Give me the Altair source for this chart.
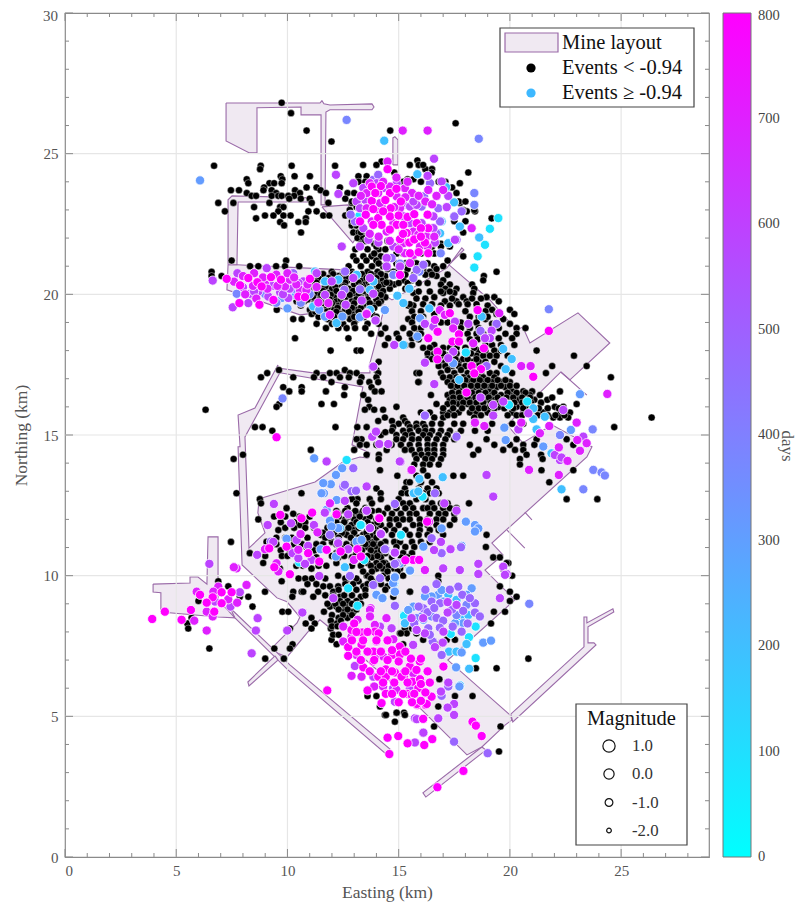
import altair as alt
import pandas as pd

FONT = "Liberation Serif"
X_DOMAIN = [0, 28.95]
Y_DOMAIN = [0, 30]
EDGE = "#9a6aa8"
PALE = "#f0e9f2"
AXIS_GRAY = "#8a8a8a"
GRID_GRAY = "#e6e6e6"

# ---- mine layout outlines (easting, northing, km) ----
mine_main = [(7.33,21.05),(7.73,21.05),(12.58,20.87),(14.70,19.80),(17.17,20.94),(17.84,21.65),(17.93,21.58),(17.26,21.05),
 (19.10,19.80),(20.31,18.73),(20.58,18.84),(20.90,18.27),(23.06,19.34),(24.49,18.27),(22.70,16.96),(22.29,17.24),(19.87,15.36),
 (20.58,14.72),(21.89,15.36),(23.69,14.58),(23.46,14.22),(19.19,11.16),(19.69,10.74),(18.88,10.20),(20.22,9.14),(17.21,7.00),
 (20.00,5.05),(20.09,4.87),(19.78,4.69),(18.74,3.91),(18.07,3.63),(16.04,5.23),(11.91,8.14),(11.46,8.43),(10.92,8.00),(9.98,7.11),
 (9.21,7.36),(10.43,8.32),(10.56,8.53),(9.98,9.07),(9.53,9.21),(7.96,10.38),(7.78,14.58),(7.87,14.58),(7.78,15.71),(8.54,15.96),
 (9.57,17.49),(9.57,17.38),(11.15,17.21),(13.71,17.21),(13.71,17.56),(13.93,18.20),(14.38,19.62),(10.56,19.27),(7.28,20.16)]
mine_top = [(7.24,26.80),(11.46,26.80),(11.55,26.88),(11.64,26.77),(11.91,26.73),(13.80,26.77),(13.89,26.66),(13.80,26.56),(11.91,26.56),
 (11.73,26.48),(11.69,23.18),(11.51,23.18),(11.51,26.38),(10.61,26.38),(10.61,26.66),(8.63,26.63),(8.63,25.03),(8.27,25.03),(7.24,25.45)]
mine_stub = [(14.74,24.60),(14.74,25.56),(14.83,25.60),(14.97,25.49),(14.97,24.60)]
mine_strip = [(7.33,21.05),(7.33,23.36),(7.51,23.50),(11.01,23.43),(11.01,23.28),(7.78,23.28),(7.73,21.05)]
mine_wedge = [(11.55,23.11),(12.72,23.18),(13.17,22.11),(12.94,21.83)]
mine_west = [(3.96,9.70),(5.62,9.74),(5.62,9.95),(5.98,9.95),(6.38,9.70),(6.43,11.38),(6.88,11.38),(6.88,9.14),(7.64,8.50),(6.88,8.53),
 (4.31,8.71),(4.31,9.39),(3.96,9.42)]
tunnel_se = [(7.42,8.85),(10.11,6.83),(14.61,3.84),(14.43,3.66),(10.02,6.65),(7.64,8.50)]
tunnel_sw = [(9.44,7.15),(8.22,6.22),(8.27,6.08),(9.57,7.00)]
tunnel_ne = [(20.04,5.08),(23.33,7.47),(23.33,8.53),(23.46,8.53),(23.46,8.32),(24.63,8.82),(24.67,8.71),(23.51,8.18),(23.51,7.61),
 (23.78,7.61),(23.87,7.54),(20.13,4.80)]
tunnel_s = [(18.74,3.91),(16.09,2.28),(16.22,2.13),(18.92,3.80)]
stub_a = [(19.87,11.62),(20.67,10.98)]
stub_b = [(20.67,12.26),(20.99,11.98)]
stub_c = [(22.29,17.24),(23.46,16.42)]
mine_hole = [(9.66,17.21),(13.39,16.71),(12.90,14.65),(13.71,14.36),(13.62,14.18),(13.26,14.22),(12.49,14.04),(11.24,13.33),
 (8.85,12.76),(8.72,12.69),(8.67,12.23),(8.99,11.52),(8.27,10.98),(8.09,14.93)]

# ---- events below the magnitude threshold: (northing, [eastings]) ----
black_rows = [
 (26.81,[9.74]),(26.44,[10.16]),(26.08,[17.56]),(25.82,[10.86,14.62]),(25.43,[11.98]),
 (24.76,[15.84]),(24.72,[14.23]),(24.57,[6.70,8.80,10.19,12.14]),(24.45,[8.77,16.2,16.5]),(24.33,[18.13,14.80,16.48]),
 (24.2,[9.70,10.32,11.01,13.56,13.19]),(24.09,[15.66,15.4,8.17,9.77]),(23.95,[8.24,9.19,9.40,9.74,12.99,17.75]),(23.8,[8.95,10.86,11.31,12.36,17.4]),
 (23.7,[7.46,7.82,8.92,9.29,10.34,11.49]),(23.6,[8.17,9.49,10.56,11.73,12.7]),(23.5,[8.39,8.59,9.29,9.59,9.74,10.04,10.3]),(23.4,[10.08,10.6,11.0,12.6]),
 (23.25,[6.89,7.57,9.19,11.09,11.84,12.89,17.75]),(23.1,[8.50,9.67,9.82,13.11]),(22.95,[7.19,9.59,10.94,11.31,18.06,18.43]),
 (22.8,[8.99,9.37,9.82,10.14,11.61,11.88,12.6]),(22.7,[8.59,10.83,19.18,12.95]),(22.57,[9.67,10.49,10.82]),(22.45,[9.85,12.89,13.1]),
 (22.2,[10.61,12.96,13.2]),(22.0,[13.15,13.4,13.7]),(21.8,[13.3,13.9,16.9]),(21.6,[13.05,13.6,14.1,14.4]),(21.35,[12.96,13.78,13.41,14.2,17.9]),
 (21.2,[7.49,9.94,13.1,13.55,14.0,15.6,17.2]),(21.0,[8.32,8.69,9.49,9.89,10.53,12.75,13.3,13.8,14.3,16.6,17.0]),
 (20.8,[6.59,11.99,12.51,12.9,13.6,14.05,14.76,15.9,16.4,19.4]),(20.65,[6.59,7.04,12.3,13.2,13.9,14.4,15.1,16.7,18.83]),
 (20.5,[11.2,11.6,12.1,12.7,13.35,13.8,14.23,15.21,15.6,17.0,18.8]),(20.35,[11.1,11.9,12.4,13.0,13.5,14.3,14.8,16.9,17.3,18.3]),
 (20.2,[11.5,12.0,12.75,13.2,13.9,14.6,15.3,17.1,17.6,18.4]),(20.05,[11.35,11.8,12.3,13.0,13.6,14.1,15.66,17.0,18.35,17.5]),
 (19.9,[11.15,12.1,12.6,13.3,14.0,14.4,16.6,17.9,18.95,19.3]),(19.75,[10.41,10.75,11.6,12.2,12.9,13.5,14.2,17.08,17.6,18.06,19.5]),
 (19.6,[10.6,11.9,12.3,12.75,13.4,13.9,15.43,15.66,16.9,17.3,19.0]),(19.45,[9.52,11.01,11.6,12.1,12.6,13.1,13.6,18.5,19.2,20.0]),
 (19.3,[11.09,11.5,12.0,12.4,12.9,13.4,13.8,16.6,19.4,20.2]),(19.12,[10.64,10.26,11.8,12.3,12.8,13.15,15.43,18.9,19.7]),
 (18.95,[11.31,12.0,12.5,13.0,13.6,14.1,20.0,19.2]),(18.8,[11.73,12.29,12.66,13.04,13.5,14.4,15.2,19.5,20.3,20.7]),(18.6,[13.76,14.91,14.2,15.5,15.9,18.8,19.8,20.3]),
 (18.44,[10.34,12.74,14.53,15.0,15.6,19.1,19.5,20.1]),(18.2,[14.38,16.6,18.9,19.2,19.6,20.2,15.6,15.3]),(18.0,[11.94,13.11,13.29,16.7,18.6,18.9,19.3,19.6,21.2]),
 (17.82,[16.9,17.2,18.5,18.8,19.1,19.4,19.9,22.88]),(17.6,[16.8,17.1,17.4,17.7,18.3,18.6,18.9,19.3,14.1]),
 (17.45,[16.8,17.1,17.4,17.7,18.0,18.3,18.6,19.0,19.6,21.9,23.45]),(17.31,[9.62,12.58,14.0,17.2,17.8]),
 (17.2,[9.09,11.31,11.91,12.21,12.81,13.11,14.08,15.8,15.93,16.9,17.5,18.1,18.4,18.7,19.1,19.4,20.1,21.62]),(17.05,[8.81,10.26,11.19,11.61,12.36,12.76,13.33,14.0,17.0,17.3,17.6,17.9,18.2,18.5,18.8,19.3,24.54]),
 (16.88,[11.98,13.26,13.68,14.08,15.91,15.88,17.2,17.5,17.9,18.2,18.5,18.8,19.2,19.6,20.0]),(16.7,[9.81,10.64,12.58,13.78,17.5,17.8,18.1,18.4,18.7,19.0,19.4,19.8]),
 (16.55,[10.08,10.64,11.73,13.93,14.23,18.0,19.1,20.1,20.6,21.0,22.25]),(16.42,[12.55,13.41,16.45,17.2,17.6,17.9,18.2,18.5,18.8,19.2,19.6,20.0,20.3,20.9,21.35]),
 (16.25,[13.63,17.3,17.6,18.0,18.3,18.6,18.9,19.3,19.7,20.4,20.7,21.1,21.68]),(16.1,[11.53,12.09,9.63,16.7,17.2,17.7,18.1,18.4,18.7,23.0]),
 (16.0,[9.51,13.68,19.1,19.5,20.0,20.3,20.8,22.02,22.4]),(15.9,[6.32,13.48,21.05,21.0]),(15.8,[16.0,16.4,17.0,17.3,17.7,18.2,18.5,19.0,20.1,20.75,21.5,22.3,22.7]),
 (15.62,[14.38,15.2,16.6,17.0,18.4,21.95,22.25,22.62,26.37]),(15.5,[14.08,15.28,14.7]),
 (15.4,[15.0,15.4,15.8,16.1,16.5,16.9,17.5,17.9,18.4,19.2,20.1,20.6]),(15.28,[8.54,8.88,12.16,13.14,13.56,14.75,15.5,15.8,16.18,24.69]),
 (15.15,[9.32,14.7,15.2,15.5,15.9,16.2,16.5,16.9,17.3,17.8,18.43,19.0]),(15.0,[14.2,14.9,15.3,15.6,16.1,16.4,16.8,17.2,17.6]),
 (14.85,[13.2,13.33,13.11,14.9,15.2,15.6,15.9,16.3,16.7,17.1,17.5,18.95,20.3,21.2,22.55]),(14.65,[13.26,13.56,14.0,14.68,15.1,15.5,15.9,16.3,16.6,17.0,18.2,19.3,20.0,20.6,21.1,22.85]),
 (14.47,[11.05,13.0,14.46,15.28,15.58,15.95,16.3,16.6,17.0,18.58,19.7,20.23,20.6]),(14.3,[8.0,13.56,14.11,15.73,16.03,16.33,16.6,17.0,18.35,20.75,21.4]),
 (14.15,[7.58,14.1,15.8,16.2,16.5,16.9,20.45,21.47]),(13.95,[15.7,16.1,16.4,16.8,20.45]),(13.75,[14.16,16.1,21.42,22.85]),(13.55,[14.94,15.8,16.3,17.46,17.9]),
 (13.32,[15.35,15.5,16.0,16.5,21.77]),(13.1,[15.28,15.9,16.3,16.7,14.0]),(12.93,[7.71,10.63,15.13,14.19,15.4,15.7,16.1,16.4,16.8]),
 (12.72,[8.76,13.15,14.2,22.55,23.93,12.9,13.7,15.0,15.8,16.2]),(12.57,[14.8,15.2,15.5,16.5,16.9,17.2,18.16,13.1,13.8,8.81]),
 (12.4,[13.5,14.5,14.9,15.3,15.65,16.1,16.3,16.6,17.0,17.3,17.6,12.7,9.96]),(12.2,[10.26,12.3,12.9,13.2,14.3,14.7,15.1,15.5,15.8,16.4,16.8,17.1,17.5]),
 (12.0,[12.0,12.6,13.0,13.5,14.0,14.6,14.9,15.2,15.5,15.95,16.3,16.7,17.0,17.5,8.69]),(11.8,[10.56,11.23,12.4,12.88,13.41,13.8,14.2,14.6,15.0,15.65,15.95,16.3,16.7,17.3]),
 (11.62,[9.59,12.0,12.6,12.96,13.6,14.0,14.4,14.8,15.3,15.95,16.4,16.8]),(11.45,[11.5,12.66,13.4,13.8,14.2,14.7,15.1,15.5,15.9,16.3,17.0,18.95]),
 (11.2,[7.46,9.06,12.0,13.0,13.71,13.9,14.4,14.8,15.06,15.6,16.0,16.4,16.9]),(11.02,[10.86,12.5,12.81,13.6,14.0,14.4,14.9,15.3,15.7,16.1,18.92]),
 (10.8,[8.31,11.0,12.2,13.1,13.93,14.0,14.4,14.8,15.2,15.6]),(10.65,[11.3,12.28,12.9,13.4,13.8,14.2,14.7,15.1,15.4,19.25,19.55]),
 (10.45,[8.91,12.2,13.6,14.0,14.4,14.9,15.2,14.31,19.93,19.85]),(10.25,[9.66,11.08,14.3,14.8,15.06,14.0,19.7]),
 (10.0,[12.28,13.56,13.6,14.3,15.2,20.1,16.78]),(9.8,[9.74,6.89,14.0,16.78,13.2]),(9.62,[7.34,11.61,11.91,12.28,13.41,14.5,19.55]),
 (9.43,[8.99,10.64,10.71,11.38,12.06,10.26,20.0,15.5,15.51]),(9.25,[10.22,11.16,14.76,20.3,7.86,8.24,12.36,13.3]),
 (9.1,[6.0,12.36,12.7,13.1,20.0]),(8.9,[8.43,11.91,12.2,12.6]),(8.72,[9.77,10.04,11.64,12.51,12.81,12.96,19.78,19.28]),(8.5,[5.69,11.08,12.3,12.7]),
 (8.3,[11.23,12.21,10.82,19.15,5.5]),(8.12,[5.54,10.11,11.08,11.95,15.28,15.6]),(7.95,[15.06,15.36,15.1,15.8]),
 (7.72,[11.98,16.1,17.16,17.53]),(7.56,[10.23,12.21,15.2,16.78]),(7.41,[6.49,9.41,10.11]),(7.05,[9.0,9.84,20.83]),(6.71,[18.47,19.4]),
 (6.32,[16.83]),(5.72,[17.53,18.32,14.0,13.6]),(5.35,[16.78,14.16]),(5.13,[14.9,15.24,14.91]),(5.05,[14.38,14.43,15.28]),(4.81,[14.83]),
 (4.64,[16.59,19.58]),(3.75,[19.51]),
]
black_rows_north = [
 (24.6,[13.4,14.0,15.5,15.9,16.1]),(24.0,[13.2,13.5,16.0,16.8,17.1,15.2]),(23.6,[13.0,17.6]),(23.3,[12.9,13.2,17.7,18.0]),(23.0,[12.8,17.9,18.4]),
 (22.6,[12.9,17.5,18.0]),(22.2,[13.3,13.6,17.9]),(21.9,[14.5,15.2,13.5]),(21.7,[14.0,15.0,16.5,16.9,17.3]),(21.45,[13.9,14.9,15.2,16.0,16.6]),
 (21.1,[14.1,14.9,15.3,15.8,16.3]),(20.9,[14.5,15.0,15.4,16.1,16.7]),(20.7,[15.3,15.7,16.2,16.5,17.2]),(20.4,[14.6,15.0,15.4,15.9,16.3]),
]
black_rows_band = [
 (20.72,[11.6,12.05,12.5,12.95,13.35,13.75,14.2]),(20.58,[11.4,11.85,12.35,12.65,13.1,13.55,14.0]),(20.42,[11.3,11.7,12.2,12.6,13.2,13.65,14.0,14.45]),
 (20.28,[10.9,11.3,11.7,12.15,12.55,13.3,13.7,14.1]),(20.12,[11.0,11.6,12.2,12.5,12.95,13.45,13.85,14.3]),(19.98,[11.0,11.5,11.95,12.4,12.8,13.2,13.7,14.2]),
 (19.82,[10.9,11.45,11.9,12.4,13.1,13.6,14.0]),(19.68,[11.2,11.55,12.0,12.5,13.0,13.7,14.1]),(19.52,[11.3,11.8,12.25,12.9,13.3,13.9]),
 (19.38,[11.25,11.75,12.2,12.75,13.2,13.6]),(19.2,[11.4,12.1,12.55,13.0,13.45,14.0]),
]
black_rows_east = [
 (20.1,[15.9,16.4,16.9,17.3]),(19.85,[15.8,16.2,17.4,18.3,18.7]),(19.65,[15.5,16.1,16.5,17.7,18.1,18.5]),(19.4,[15.6,16.0,18.0,18.9]),
 (19.2,[15.7,16.1,18.2,18.6,19.0]),(19.0,[15.6,16.9,17.2,17.8,18.5]),(18.8,[15.7,16.0,17.8,18.2,18.6]),(18.6,[15.5,16.0,18.1,18.5]),(18.4,[15.9,18.2,18.55]),
 (18.1,[16.1,16.4,17.0,17.3,17.6,18.0,18.4]),(17.9,[16.3,16.6,17.0,17.6,18.0,18.25]),(17.7,[16.3,16.5,17.55,17.9,18.1,18.5]),
 (16.95,[18.0,18.35,18.65,19.0,19.45,19.8]),(16.75,[17.35,17.65,17.95,18.25,18.55,18.85,19.2,19.6,20.0,20.3]),(16.5,[17.4,17.7,18.3,18.6,18.9,19.3,19.9,20.3,20.7]),
 (16.33,[17.45,17.75,18.1,18.45,18.75,19.05,19.45,19.85,20.15,20.55,20.9,21.9]),(16.15,[17.45,17.9,18.2,18.5,18.8,19.15,19.55,19.9,20.2,20.55,20.95,21.4]),
 (15.95,[17.0,17.45,17.85,18.3,18.6,18.85,19.3,19.75,20.15,20.6,21.3,21.7,22.2]),(15.7,[17.2,17.5,18.7,19.9,20.3,20.55,21.25,21.7,22.05,22.45]),
]
black_rows_south = [
 (12.3,[12.2,12.6,13.05,13.4,13.8,14.1]),(12.1,[12.3,12.75,13.25,13.7,14.15,9.4,9.9,10.55,11.0]),(11.9,[12.2,12.55,13.1,13.6,14.05,9.7,10.3,10.8]),
 (11.7,[11.8,12.3,12.75,13.2,13.85,9.9,10.3,10.8,11.2]),(11.52,[11.6,12.1,12.45,13.0,13.55,14.0]),(11.35,[11.9,12.3,12.85,13.2,13.6,14.0,9.5,9.9,10.2,10.9,11.7]),
 (11.12,[11.6,12.2,12.65,13.2,13.5,13.85,14.2,9.5,10.3,10.65,11.3]),(10.9,[11.8,12.35,12.7,13.35,13.75,14.2,9.7,10.1,11.2]),(10.7,[12.0,12.55,13.05,13.6,14.05,9.75,10.0,9.0]),
 (10.35,[12.9,13.3,13.75,14.15,14.55,15.0,10.4,10.7,11.4,11.75]),(10.15,[13.4,13.8,14.5,14.95]),(9.9,[12.7,13.1,13.75,14.15,14.55,10.5,10.8,11.1,11.7,12.6]),
 (9.7,[12.6,12.95,13.6,14.2,10.9,11.3]),(9.5,[12.3,12.7,13.1,13.5,14.4]),(9.3,[11.7,12.05,12.55,12.9,13.5]),(9.0,[11.8,12.15,12.5,12.9,13.3]),
 (8.8,[12.3,12.7,13.1]),(8.6,[12.0,12.5,12.9]),(8.4,[11.95,12.4]),(8.2,[12.0,12.25]),(7.9,[12.05,12.3]),
 (15.9,[13.9,14.3]),(16.0,[14.9]),(15.1,[14.0,14.4]),
]

# ---- events above the threshold, by day level: (easting, northing) ----
days_100 = [(19.48,22.71),(19.1,22.33),(18.88,21.76),(18.55,21.35),(18.4,20.95),(13.2,22.77),(18.02,17.93),(19.96,16.07),(20.78,16.19),
 (16.08,12.81),(15.1,11.42),(13.33,11.8),(12.66,14.11),(13.29,11.8),(15.1,11.45),(12.73,9.55),(13.15,8.93),(16.07,12.81),(13.45,10.56),
 (15.25,8.61),(10.53,10.47),(18.46,8.19),(17.34,7.93),(18.16,7.81),(18.46,7.07),(15.24,8.57),(17.76,8.49),(14.28,9.2)]
days_200 = [(15.84,24.27),(14.35,25.46),(17.13,23.81),(18.62,22.02),(17.49,23.27),(16.93,22.59),(16.86,22.17),(17.23,21.82),(17.75,22.41),
 (11.24,20.81),(11.69,20.46),(12.29,20.52),(13.11,20.69),(12.21,18.98),(13.71,20.16),(13.86,20.46),(11.16,19.57),(14.94,19.95),(15.21,19.69),
 (15.48,20.2),(16.03,19.1),(13.71,19.45),(15.21,18.2),(16.38,19.5),(18.73,19.21),(19.7,18.06),(20.08,17.7),(19.81,17.34),(17.72,16.96),
 (21.05,15.95),(21.57,15.65),(21.05,15.57),(21.2,15.2),(22.32,13.07),(15.93,13.44),(15.66,12.95),(15.88,13.0),(16.98,13.5),(21.87,14.35),
 (12.58,10.3),(12.36,11.69),(15.68,12.93),(15.88,12.99),(15.5,10.2),(17.23,9.32),(17.9,8.6),(18.13,8.6),(15.28,8.31),(18.05,7.57),(18.17,6.69),
 (14.8,9.73),(15.48,10.18),(17.6,9.14),(17.76,6.1),(17.26,7.3),(17.6,7.3)]
days_310 = [(10.26,19.98),(10.0,19.5),(11.43,19.45),(11.69,19.21),(12.47,19.21),(13.26,19.19),(14.38,19.45),(9.74,19.87),(15.96,19.15),(14.38,19.44),
 (17.45,17.55),(18.02,11.92),(18.43,11.8),(18.58,11.68),(18.43,11.57),(16.93,11.68),(23.15,16.45),(22.74,15.18),(21.5,14.59),(19.81,14.82),
 (19.75,15.26),(15.51,10.18),(16.11,11.03),(17.83,11.06),(15.84,18.5),(11.76,12.34),(11.91,11.95),(12.28,11.69),(11.98,11.75),(11.64,12.93),
 (11.53,12.93),(12.46,13.82),(12.18,13.58),(11.95,13.25),(11.2,14.17),(12.21,12.69),(11.49,10.94),(12.18,10.68),(13.11,11.21),(13.33,11.27),
 (11.61,13.29),(9.96,11.31),(14.8,9.44),(14.0,9.32),(14.27,9.2),(14.83,9.97),(14.75,9.73),(15.06,10.44),(16.78,9.32),(16.48,9.26),(16.18,9.26),
 (16.93,9.49),(18.28,9.55),(18.05,9.32),(17.0,9.08),(15.66,8.9),(15.43,8.78),(17.9,8.31),(17.53,8.31),(17.83,7.27),(17.58,6.74),(18.8,7.62),
 (19.15,7.69),(17.73,6.06),(16.11,8.43),(14.83,9.43),(14.83,9.94),(6.07,24.05)]
days_380 = [(18.4,23.6),(18.4,23.18),(16.89,21.46),(15.06,21.09),(15.93,20.81),(14.76,20.69),(18.6,25.53),(9.78,16.3),(12.66,26.2),(7.72,20.02),
 (17.6,8.6),(16.48,8.55),(18.05,8.96),(16.03,8.55),(15.81,8.49),(20.87,9.0),(23.3,13.07),(23.72,15.2),(22.25,15.0),(21.75,19.47),(23.75,13.76),(24.12,13.67),(24.27,13.56),
 (16.18,15.68),(16.18,17.57),(9.0,20.0),(9.5,19.7),(10.0,20.1),(10.3,20.2),(10.6,19.7),(11.0,20.0)]
days_480 = [(13.04,22.59),(12.84,22.83),(13.86,24.07),(14.16,24.07),(16.03,23.12),(16.14,23.48),(16.41,23.95),(15.51,23.6),(16.7,22.17),(16.86,22.59),
 (16.78,23.06),(17.5,22.77),(17.6,21.94),(17.83,22.95),(15.81,20.87),(16.11,21.05),(15.66,20.58),(14.08,24.25),(14.68,21.29),(10.26,20.75),
 (12.56,20.16),(13.26,20.18),(12.59,20.81),(18.95,17.45),(19.4,18.95),(18.68,18.7),(16.18,15.69),(17.6,14.94),(14.83,12.55),(16.63,12.93),
 (16.48,11.33),(16.93,10.8),(17.8,11.01),(14.91,10.44),(14.43,10.94),(11.91,11.45),(12.51,13.17),(12.88,13.0),(12.28,11.21),(14.38,10.94),
 (14.83,10.42),(12.81,9.99),(14.16,9.91),(12.96,13.82),(12.58,13.23),(13.08,13.02),(9.26,11.21),(13.86,9.67),(14.83,8.93),(16.48,9.08),
 (16.11,8.84),(16.86,9.02),(18.43,9.02),(18.43,8.69),(17.86,9.32),(17.68,9.61),(18.65,8.55),(17.43,8.19),(17.83,8.01),(16.33,8.13),(16.53,7.66),
 (16.93,7.18),(16.93,5.73),(17.49,4.1),(19.0,3.69),(17.23,6.06),(16.3,8.7),(16.7,8.5),(17.0,8.4),(16.6,8.85),(17.4,8.8),(17.9,8.75),(18.2,9.2),
 (16.2,9.5),(16.7,9.7),(17.3,9.5),(15.9,8.9),(16.85,8.15),(18.1,8.3),(16.4,7.9),(15.7,8.3)]
days_590 = [(13.41,23.78),(13.49,23.36),(13.11,23.3),(13.26,23.06),(14.01,23.95),(14.31,23.78),(14.91,23.95),(15.21,23.18),(15.51,23.12),(15.81,23.18),
 (15.66,23.3),(15.21,22.77),(15.51,22.53),(16.03,22.53),(16.56,22.77),(16.56,22.35),(14.76,21.7),(14.09,21.84),(13.64,21.94),(13.26,21.7),
 (12.96,23.95),(12.18,24.25),(12.29,23.57),(12.44,21.7),(16.59,24.82),(16.63,21.84),(17.16,23.1),(17.23,23.5),(16.93,24.01),(17.53,21.94),
 (14.46,21.29),(14.46,20.99),(15.06,20.99),(16.3,24.21),(13.41,22.35),(8.32,20.02),(8.69,20.1),(9.67,20.07),(9.14,19.92),(10.04,19.87),
 (10.71,20.46),(11.31,20.75),(11.69,19.98),(11.99,20.46),(12.44,19.98),(12.62,19.63),(12.96,20.58),(13.34,19.78),(13.71,20.58),(13.86,20.02),
 (13.97,19.07),(6.64,20.49),(7.54,19.54),(8.24,19.69),(9.07,20.93),(16.18,18.95),(16.56,18.85),(17.53,19.03),(18.13,18.95),(17.45,17.96),
 (17.23,17.73),(16.18,17.57),(14.8,18.2),(13.96,19.07),(13.83,17.43),(16.6,16.81),(18.68,16.33),(19.25,15.69),(19.25,16.07),(20.38,15.2),
 (22.4,15.89),(20.83,15.77),(18.95,13.58),(19.25,12.81),(15.09,14.05),(13.56,12.31),(17.05,12.57),(17.6,12.31),(16.9,11.2),(17.33,10.94),
 (16.59,10.91),(17.0,10.26),(16.18,10.2),(17.75,10.2),(18.58,10.42),(18.58,10.06),(19.7,10.32),(19.85,10.06),(13.71,11.68),(14.19,11.51),
 (14.83,10.8),(19.18,18.71),(19.1,18.44),(19.7,16.19),(22.25,14.11),(22.02,14.29),(22.32,14.2),(23.3,14.94),(18.88,18.44),(9.39,12.55),
 (9.11,11.8),(10.16,11.86),(11.19,11.8),(11.68,12.24),(12.73,12.18),(13.71,11.69),(14.2,11.48),(14.83,10.82),(15.05,14.06),(13.86,17.43),
 (11.76,14.06),(8.64,10.74),(6.49,10.42),(10.23,10.8),(10.49,10.62),(11.08,10.56),(10.79,10.42),(11.43,9.99),(12.06,9.2),(10.41,11.27),
 (10.93,11.06),(12.28,11.15),(12.73,10.94),(13.56,13.17),(13.56,12.31),(12.58,12.66),(9.36,11.2),(13.81,14.94),(14.13,14.68),(14.53,14.68),
 (13.98,15.12),(7.86,9.41),(6.74,9.08),(7.44,8.9),(8.66,8.49),(8.58,8.05),(8.39,7.24),(9.99,8.05),(10.67,8.69),(14.16,8.19),(14.68,8.13),
 (15.65,7.54),(16.18,7.95),(15.8,8.07),(16.1,8.49),(15.58,8.49),(13.03,6.79),(13.86,6.41),(14.83,5.52),(15.73,4.93),(16.1,4.42),(15.73,4.07),
 (15.2,6.53),(15.5,6.0),(14.75,6.0),(17.2,9.06),(17.2,8.69),(17.6,8.96),(17.01,8.01),(15.81,8.07),(17.23,6.2),(17.49,5.44),(17.2,5.31),
 (17.49,5.05),(16.78,4.93),(16.11,4.42),(15.81,4.9),(19.55,9.2),(19.78,10.03),(16.98,7.62),(16.63,7.46),(16.9,5.88),(8.0,20.25),(8.5,20.1),
 (9.3,20.3),(9.8,20.0),(10.5,20.4),(10.1,20.2),(7.75,20.75)]
days_700 = [(13.56,23.6),(14.08,23.6),(14.91,23.48),(14.23,23.12),(14.38,23.36),(15.06,23.06),(15.28,23.77),(13.56,23.06),(14.16,22.95),(13.79,22.59),
 (14.76,22.53),(14.46,22.23),(15.66,22.23),(15.88,22.12),(15.21,21.82),(16.26,22.06),(15.96,21.7),(15.66,21.4),(15.28,21.46),(15.51,21.11),
 (14.5,24.72),(17.0,23.71),(16.33,23.71),(18.28,22.35),(14.61,23.83),(14.16,23.24),(15.18,25.82),(16.3,25.82),(8.9,20.4),(8.45,20.3),(9.0,20.35),
 (9.89,20.28),(10.11,20.52),(10.56,20.16),(11.31,20.26),(11.39,19.71),(11.84,19.69),(11.91,19.27),(13.56,19.33),(16.85,19.44),(16.63,19.09),
 (17.08,19.27),(17.45,18.79),(18.35,18.26),(20.51,17.45),(20.93,17.45),(13.56,19.3),(19.52,19.33),(18.85,15.32),(18.43,15.44),(20.51,15.44),
 (21.77,15.32),(23.0,15.44),(23.45,14.71),(23.15,14.44),(22.2,14.56),(22.2,13.58),(20.86,13.76),(24.38,16.46),(16.36,11.92),(14.11,12.06),
 (15.55,13.76),(22.59,14.08),(23.03,14.82),(21.35,15.06),(11.35,11.54),(11.91,12.57),(10.59,11.48),(9.51,10.44),(9.59,10.15),(10.49,10.92),
 (12.99,10.56),(16.18,10.2),(15.58,13.76),(13.74,8.84),(7.71,10.26),(7.59,10.3),(8.99,10.94),(5.92,9.43),(6.89,9.61),(6.67,9.43),(7.34,9.16),
 (7.74,9.04),(6.37,8.72),(5.81,8.4),(6.64,8.55),(8.16,9.67),(6.37,8.05),(13.71,8.78),(13.71,8.55),(13.15,8.43),(12.51,8.19),(14.45,8.49),
 (13.93,8.25),(13.38,7.72),(12.88,7.83),(12.51,7.66),(13.11,7.18),(14.0,7.66),(14.76,7.74),(14.3,7.13),(13.93,7.06),(13.33,6.41),(12.88,6.44),
 (13.9,6.06),(14.3,6.06),(14.9,5.94),(15.65,6.53),(16.25,5.82),(13.3,23.5),(13.7,23.95),(14.3,24.0),(14.9,24.15),(15.4,24.0),(15.6,23.6),(15.9,23.5),
 (16.2,23.3),(16.5,23.2),(16.7,23.5),(14.8,23.1),(15.3,23.45),(13.7,22.15),(14.1,22.05),(14.6,21.9),(15.0,21.6),(16.6,22.05),(16.3,21.7),
 (8.0,20.65),(8.5,20.75),(8.9,20.6),(9.5,20.7),(10.0,20.75),(10.4,20.35),(7.6,20.45),(8.1,20.0),(8.6,19.85),(9.1,20.2),(9.55,20.3),(10.3,20.6),
 (10.85,20.15),(10.9,20.35)]
days_800 = [(13.79,23.83),(13.79,23.32),(13.86,23.03),(13.52,22.83),(14.08,22.71),(14.23,22.47),(13.86,22.47),(14.61,23.6),(14.64,23.06),(14.91,22.47),
 (15.06,21.96),(15.48,21.84),(16.18,21.84),(16.33,22.35),(15.81,22.53),(16.3,22.83),(15.36,22.18),(15.51,21.46),(16.33,21.46),(15.06,20.69),
 (14.5,24.45),(13.26,22.59),(14.61,22.77),(15.21,22.47),(8.24,20.58),(8.65,20.43),(9.26,20.61),(8.84,20.28),(7.87,20.32),(7.27,20.55),(9.71,20.52),
 (11.01,20.55),(10.49,19.92),(10.79,19.9),(8.74,19.63),(7.84,19.69),(9.37,19.8),(17.3,19.33),(16.75,18.67),(16.33,18.44),(16.75,17.96),(16.74,17.69),
 (17.71,18.58),(17.42,18.32),(17.71,18.32),(18.7,17.34),(18.28,17.45),(18.05,16.51),(21.05,17.07),(21.75,18.7),(18.4,17.19),(18.83,18.08),(18.55,19.44),
 (9.51,14.92),(9.68,12.16),(11.11,12.24),(14.13,12.04),(12.21,12.18),(10.63,12.04),(9.18,10.97),(9.96,11.03),(10.93,10.8),(11.43,10.5),(11.76,10.92),
 (12.39,10.86),(13.15,10.94),(13.3,10.68),(9.41,10.3),(10.11,10.05),(15.65,10.56),(15.92,10.56),(16.28,11.92),(15.3,10.55),(6.07,9.32),(5.66,8.78),
 (7.04,9.41),(6.64,9.23),(6.37,9.04),(7.04,9.02),(6.71,8.72),(7.49,9.41),(3.92,8.46),(4.49,8.72),(5.24,8.43),(11.79,5.92),(12.88,8.07),(13.93,8.01),
 (13.36,7.98),(12.73,7.46),(12.73,7.15),(13.33,7.54),(13.86,7.3),(14.71,7.18),(13.41,6.74),(14.42,6.67),(13.86,6.95),(15.05,7.48),(15.5,6.77),(15.95,6.95),
 (14.83,6.56),(14.08,6.41),(15.23,6.41),(15.95,6.29),(14.42,6.41),(15.62,6.23),(15.88,6.0),(15.38,5.8),(14.42,5.8),(13.6,5.92),(14.23,5.47),(15.83,5.4),
 (16.22,5.4),(16.1,4.91),(14.5,4.24),(14.98,4.3),(15.4,4.04),(16.15,3.98),(14.58,3.66),(15.06,7.2),(15.13,6.41),(15.96,6.32),(15.58,5.76),(16.26,5.44),
 (15.81,5.44),(16.51,4.19),(16.74,2.48),(17.91,3.06),(18.32,4.81),(18.47,4.67),(18.73,4.3),(16.48,5.7),(17.01,6.77),(13.0,8.3),(13.1,8.0),(13.6,8.0),
 (14.1,7.95),(12.9,7.7),(13.4,7.7),(14.0,7.7),(14.5,7.7),(13.1,7.3),(13.6,7.3),(14.2,7.3),(14.7,7.35),(15.3,7.3),(13.3,7.0),(13.9,7.0),(14.5,7.0),
 (15.0,6.95),(15.55,7.05),(16.0,7.05),(13.7,6.6),(14.2,6.6),(14.7,6.6),(15.3,6.6),(15.8,6.65),(16.3,6.6),(14.3,6.2),(14.8,6.2),(15.4,6.2),(16.0,6.15),
 (16.4,6.2),(14.7,5.8),(15.2,5.8),(15.7,5.8),(16.2,5.85),(15.0,5.5),(15.6,5.5),(16.0,5.55),(14.2,23.85),(14.4,23.35),(13.95,23.6),(14.9,23.75),(15.1,23.3),
 (14.3,22.95),(14.6,22.3),(15.0,22.8),(15.4,22.75),(15.7,22.85),(16.0,22.35),(15.7,21.95),(15.9,21.5),(16.0,22.05),(15.2,22.15)]

# ---- axes, legend and colour bar text ----
x_ticks = [0, 5, 10, 15, 20, 25]
y_ticks = [0, 5, 10, 15, 20, 25, 30]
y_labelled = [0, 5, 10, 15, 20, 25]
x_minor = [v for v in range(1, 29) if v % 5]
y_minor = [v for v in range(1, 30) if v % 5]
cbar_ticks = [100, 200, 300, 400, 500, 600, 700]
cbar_labels = [0, 100, 200, 300, 400, 500, 600, 700]
mag_labels = ["1.0", "0.0", "-1.0", "-2.0"]
mag_sizes = [150, 105, 60, 22]

# ---- frames ----
polys = {"main": mine_main, "top": mine_top, "stub": mine_stub, "strip": mine_strip, "wedge": mine_wedge, "west": mine_west,
         "se": tunnel_se, "sw": tunnel_sw, "ne": tunnel_ne, "s": tunnel_s, "a": stub_a, "b": stub_b, "c": stub_c}
rows = []
for name, pts in polys.items():
    for i, (e, n) in enumerate(pts + [pts[0]]):
        rows.append({"id": name, "i": i, "e": e, "n": n})
poly_df = pd.DataFrame(rows)
hole_df = pd.DataFrame([{"id": "hole", "i": i, "e": e, "n": n} for i, (e, n) in enumerate(mine_hole + [mine_hole[0]])])
all_black = black_rows + black_rows_north + black_rows_band + black_rows_east + black_rows_south
black_df = pd.DataFrame([{"e": e, "n": n} for n, es in all_black for e in es])
col_rows = []
for d, pts in [(90, days_100), (200, days_200), (310, days_310), (380, days_380), (480, days_480), (590, days_590), (700, days_700), (800, days_800)]:
    col_rows += [{"e": e, "n": n, "days": d} for e, n in pts]
color_df = pd.DataFrame(col_rows)

xs = alt.Scale(domain=X_DOMAIN, nice=False, zero=False)
ys = alt.Scale(domain=Y_DOMAIN, nice=False, zero=False)
x_axis = alt.Axis(values=x_ticks, ticks=False, domain=False, grid=False, title="Easting (km)", labelPadding=6, titlePadding=5,
                  labelFont=FONT, labelFontSize=15, labelColor="#555555", titleFont=FONT, titleFontSize=17.5, titleColor="#555555", titleFontWeight="normal", format="d")
y_axis = alt.Axis(values=y_labelled, ticks=False, domain=False, grid=False, title="Northing (km)", labelPadding=7, titlePadding=13,
                  labelFont=FONT, labelFontSize=15, labelColor="#555555", titleFont=FONT, titleFontSize=17.5, titleColor="#555555", titleFontWeight="normal", format="d")
X = alt.X("e:Q", scale=xs, axis=x_axis)
Y = alt.Y("n:Q", scale=ys, axis=y_axis)

main_layer = alt.Chart(poly_df).mark_line(fill=PALE, stroke=EDGE, strokeWidth=1.1).encode(x=X, y=Y, order="i:Q", detail="id:N")
hole_layer = alt.Chart(hole_df).mark_line(fill="white", stroke=EDGE, strokeWidth=1.1).encode(x=X, y=Y, order="i:Q", detail="id:N")

grid_x = alt.Chart(pd.DataFrame({"e": x_ticks[1:]})).mark_rule(color=GRID_GRAY, strokeWidth=1.2).encode(x=X)
grid_y = alt.Chart(pd.DataFrame({"n": y_ticks[1:-1]})).mark_rule(color=GRID_GRAY, strokeWidth=1.2).encode(y=Y)

black_layer = alt.Chart(black_df).mark_circle(color="black", size=50, opacity=1, stroke="white", strokeWidth=0.4).encode(x=X, y=Y)
color_layer = alt.Chart(color_df).mark_circle(size=85, opacity=1, stroke="white", strokeWidth=0.8).encode(
    x=X, y=Y, order=alt.Order("days:Q"),
    color=alt.Color("days:Q", scale=alt.Scale(domain=[0, 800], range=["#00ffff", "#ff00ff"], interpolate="rgb"),
                    legend=alt.Legend(orient="none", legendX=658, legendY=0, gradientLength=844, gradientThickness=28, title=None,
                                      values=[0, 800], labelOpacity=0, labelFontSize=1,
                                      gradientStrokeColor="#777777", gradientStrokeWidth=1, direction="vertical", type="gradient")))


def tick_layers():
    out = []
    for vals, size in [(x_ticks, 8), (x_minor, 4)]:
        df = pd.DataFrame({"e": vals})
        out.append(alt.Chart(df).mark_rule(color=AXIS_GRAY, strokeWidth=1).encode(x=X, y=alt.value(844), y2=alt.value(844 - size)))
        out.append(alt.Chart(df).mark_rule(color=AXIS_GRAY, strokeWidth=1).encode(x=X, y=alt.value(0), y2=alt.value(size)))
    for vals, size in [(y_ticks, 8), (y_minor, 4)]:
        df = pd.DataFrame({"n": vals})
        out.append(alt.Chart(df).mark_rule(color=AXIS_GRAY, strokeWidth=1).encode(y=Y, x=alt.value(0), x2=alt.value(size)))
        out.append(alt.Chart(df).mark_rule(color=AXIS_GRAY, strokeWidth=1).encode(y=Y, x=alt.value(644), x2=alt.value(644 - size)))
    return out


one = pd.DataFrame({"a": [1]})


def box(x0, x1, y0, y1, fill="white", stroke="#444444", sw=1.2):
    return alt.Chart(one).mark_rect(fill=fill, stroke=stroke, strokeWidth=sw).encode(
        x=alt.value(x0), x2=alt.value(x1), y=alt.value(y0), y2=alt.value(y1))


def label(text, x, y, size=20.5, color="#111111", align="left", angle=0, baseline="middle"):
    return alt.Chart(pd.DataFrame({"t": [text]})).mark_text(font=FONT, fontSize=size, color=color, align=align, baseline=baseline, angle=angle).encode(
        x=alt.value(x), y=alt.value(y), text="t:N")


def dot(x, y, color, size=85):
    return alt.Chart(one).mark_point(filled=True, color=color, size=size, opacity=1).encode(x=alt.value(x), y=alt.value(y))


legend_a = [box(435, 629, 15, 94), box(440, 493, 20, 39, fill=PALE, stroke=EDGE),
            label("Mine layout", 497, 30), dot(466, 55, "black"), label("Events < -0.94", 497, 55),
            dot(466, 80, "#3db8ff"), label("Events \u2265 -0.94", 497, 80)]
legend_b = [box(511, 622, 691, 832), label("Magnitude", 566.5, 706, align="center")]
for lab, sz, yy in zip(mag_labels, mag_sizes, [733, 761, 789.5, 817.5]):
    legend_b.append(alt.Chart(one).mark_point(filled=False, color="#111111", size=sz, strokeWidth=1.2, opacity=1).encode(x=alt.value(544), y=alt.value(yy)))
    legend_b.append(label(lab, 567, yy, size=16.8, color="#333333"))

cbar_tick_layer = alt.Chart(pd.DataFrame({"n": [d * 30 / 800 for d in cbar_ticks]})).mark_rule(color="#333333", strokeWidth=1).encode(
    x=alt.value(677), x2=alt.value(686), y=Y)
cbar_text_layer = alt.Chart(pd.DataFrame({"n": [d * 30 / 800 for d in cbar_labels], "t": [str(d) for d in cbar_labels]})).mark_text(
    font=FONT, fontSize=14.5, color="#444444", align="left", baseline="middle").encode(x=alt.value(693), y=Y, text="t:N")
top_labels = [label("30", -7, -4, size=15, color="#555555", align="right", baseline="top"),
              label("800", 693, -4, size=14.5, color="#444444", baseline="top")]
days_title = label("days", 722, 433, size=17, color="#555555", align="center", angle=90)

chart = alt.layer(main_layer, hole_layer, grid_x, grid_y, black_layer, color_layer, *tick_layers(), *legend_a, *legend_b,
                  cbar_tick_layer, cbar_text_layer, *top_labels, days_title).properties(
    width=644, height=844,
    padding={"left": 57, "top": 5, "right": 90, "bottom": 46},
    autosize=alt.AutoSizeParams(type="none"),
).configure_view(stroke=AXIS_GRAY, strokeWidth=1.2)

chart.save("out.html", embed_options={"renderer": "svg", "actions": False})
